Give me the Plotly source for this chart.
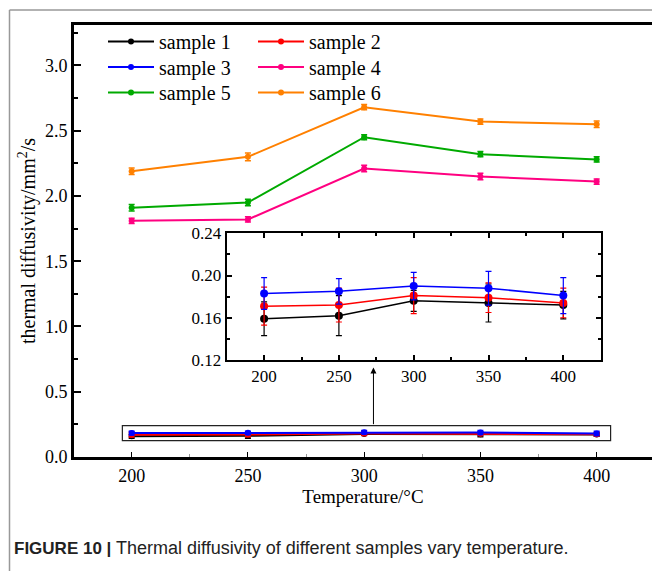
import plotly.graph_objects as go

temperature = [200, 250, 300, 350, 400]

sample1 = [0.159, 0.162, 0.176, 0.174, 0.172]
sample1_err = [0.016, 0.019, 0.010, 0.018, 0.013]
sample2 = [0.171, 0.172, 0.181, 0.179, 0.174]
sample2_err = [0.018, 0.016, 0.017, 0.014, 0.014]
sample3 = [0.183, 0.185, 0.190, 0.188, 0.181]
sample3_err = [0.015, 0.012, 0.013, 0.016, 0.017]
sample4 = [1.81, 1.82, 2.21, 2.15, 2.11]
sample4_err = [0.02, 0.02, 0.025, 0.025, 0.02]
sample5 = [1.91, 1.95, 2.45, 2.32, 2.28]
sample5_err = [0.025, 0.025, 0.02, 0.02, 0.02]
sample6 = [2.19, 2.30, 2.68, 2.57, 2.55]
sample6_err = [0.025, 0.03, 0.02, 0.02, 0.025]

names = ["sample 1", "sample 2", "sample 3", "sample 4", "sample 5", "sample 6"]
colors = ["#000000", "#FF0000", "#0000FF", "#FF0080", "#00AA00", "#FF8000"]
values = [sample1, sample2, sample3, sample4, sample5, sample6]
errors = [sample1_err, sample2_err, sample3_err, sample4_err, sample5_err, sample6_err]

inset_tick = [0.12, 0.16, 0.20, 0.24]
main_ticks = [0.0, 0.5, 1.0, 1.5, 2.0, 2.5, 3.0]

W, H = 652, 571
ML, MR, MT, MB = 74, 0, 25, 114
PW, PH = W - ML - MR, H - MT - MB


def px(xp):
    return (xp - ML) / PW


def py(yp):
    return (H - MB - yp) / PH


SERIF = "Times New Roman, Liberation Serif, serif"
TICKFONT = dict(family=SERIF, size=18, color="black")
fig = go.Figure()

legend_ids = ["legend", "legend", "legend2", "legend2", "legend3", "legend3"]

# main traces
for i in range(6):
    fig.add_trace(go.Scatter(
        x=temperature, y=values[i], name=names[i], mode="lines+markers",
        line=dict(color=colors[i], width=2),
        marker=dict(color=colors[i], size=6),
        error_y=dict(type="data", array=errors[i], color=colors[i], thickness=1.5, width=3),
        legend=legend_ids[i],
        xaxis="x", yaxis="y",
    ))

# inset traces
for i in range(3):
    fig.add_trace(go.Scatter(
        x=temperature, y=values[i], name=names[i], mode="lines+markers",
        line=dict(color=colors[i], width=1.5),
        marker=dict(color=colors[i], size=8),
        error_y=dict(type="data", array=errors[i], color=colors[i], thickness=1.2, width=3),
        showlegend=False, xaxis="x2", yaxis="y2",
    ))

leg_common = dict(xanchor="left", yanchor="middle", orientation="h", bgcolor="rgba(0,0,0,0)",
                  font=dict(family=SERIF, size=20), itemwidth=46, entrywidth=89,
                  entrywidthmode="pixels")

fig.update_layout(
    width=W, height=H,
    margin=dict(l=ML, r=MR, t=MT, b=MB),
    paper_bgcolor="white", plot_bgcolor="white",
    font=dict(family=SERIF, color="black", size=18),
    xaxis=dict(
        showgrid=False, zeroline=False, linecolor="black", ticks="inside", tickcolor="black",
        range=[175.2, 423.8], domain=[0, 1],
        tickvals=temperature, linewidth=3, mirror=True, ticklen=5, tickwidth=1,
        minor=dict(dtick=25, tick0=200, ticks="inside", ticklen=3, tickcolor="#999"),
        title=dict(text="Temperature/°C", font=dict(family=SERIF, size=19), standoff=5),
    ),
    yaxis=dict(
        showgrid=False, zeroline=False, linecolor="black", ticks="inside", tickcolor="black",
        range=[0, 3.31], domain=[0, 1],
        tickvals=main_ticks, tickformat=".1f", linewidth=3, mirror=False, ticklen=7, tickwidth=2,
        minor=dict(dtick=0.25, ticks="inside", ticklen=4, tickwidth=2, tickcolor="black"),
        title=dict(text="thermal diffusivity/mm<sup>2</sup>/s", font=dict(family=SERIF, size=20), standoff=4),
    ),
    xaxis2=dict(
        showgrid=False, zeroline=False, linecolor="black", ticks="inside", tickcolor="black",
        range=[175, 425], domain=[px(226.7), px(600.7)], anchor="y2",
        tickvals=temperature, linewidth=2, mirror="ticks", ticklen=5, tickwidth=2,
        minor=dict(dtick=25, tick0=200, ticks="inside", ticklen=3, tickwidth=2),
    ),
    yaxis2=dict(
        showgrid=False, zeroline=False, linecolor="black", ticks="inside", tickcolor="black",
        range=[0.12, 0.24], domain=[py(360), py(233.3)], anchor="x2",
        tickvals=inset_tick, tickformat=".2f", linewidth=2, mirror="ticks", ticklen=5, tickwidth=2,
        minor=dict(dtick=0.02, ticks="inside", ticklen=3, tickwidth=2),
    ),
    legend=dict(x=px(103), y=py(41.5), **leg_common),
    legend2=dict(x=px(103), y=py(67), **leg_common),
    legend3=dict(x=px(103), y=py(92.5), **leg_common),
    showlegend=True,
)
fig.update_xaxes(tickfont=TICKFONT)
fig.update_yaxes(tickfont=TICKFONT)
fig.update_layout(xaxis2_tickfont_size=17, yaxis2_tickfont_size=17)

# zoom box and arrow
fig.add_shape(type="rect", xref="x", yref="y", x0=196, x1=406, y0=0.125, y1=0.24,
              line=dict(color="#222", width=1.2))
fig.add_annotation(x=304, y=0.685, ax=304, ay=0.24, xref="x", yref="y", axref="x", ayref="y",
                   text="", showarrow=True, arrowhead=2, arrowsize=1.2, arrowwidth=1, arrowcolor="black")

# figure border
fig.add_shape(type="line", xref="paper", yref="paper", x0=px(9.5), x1=px(9.5), y0=py(10), y1=py(H + 5),
              line=dict(color="#999", width=1.5))
fig.add_shape(type="line", xref="paper", yref="paper", x0=px(9.5), x1=px(W + 5), y0=py(10), y1=py(10),
              line=dict(color="#999", width=1.5))

# caption
fig.add_annotation(xref="paper", yref="paper", x=px(12), y=py(548), xanchor="left", yanchor="middle",
                   showarrow=False, align="left",
                   text="<b>FIGURE 10 |</b> <span style='font-size:18px'>Thermal diffusivity of different samples vary temperature.</span>",
                   font=dict(family="Liberation Sans", size=17, color="#222"))

fig.write_html("out.html")
